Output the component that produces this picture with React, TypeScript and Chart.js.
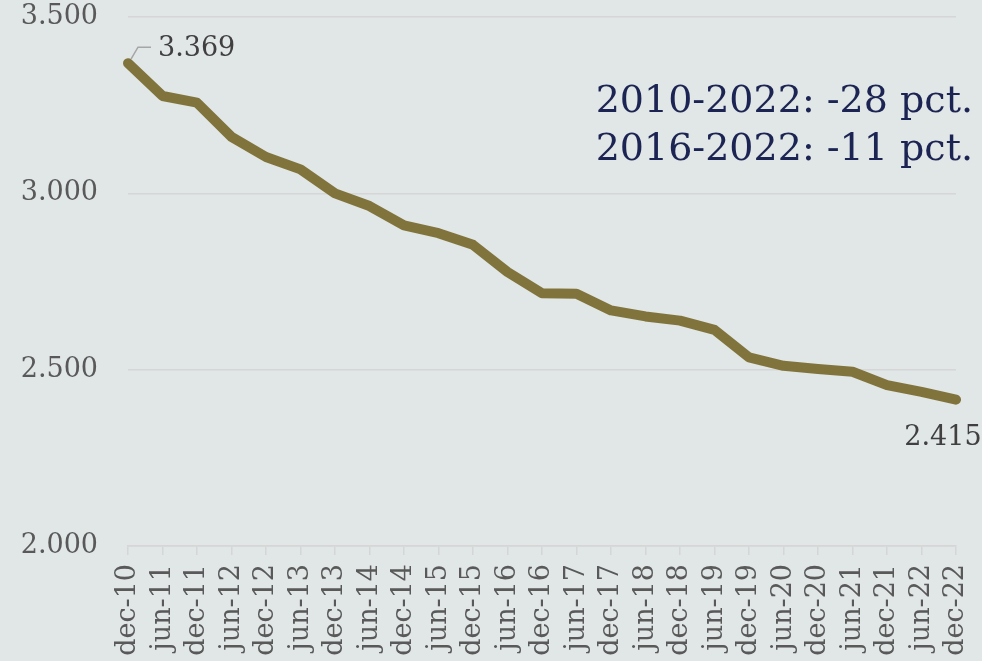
import React, { useEffect, useRef } from "react";
import { Chart, registerables } from "chart.js";

Chart.register(...registerables);

const categories = [
  "dec-10", "jun-11", "dec-11", "jun-12", "dec-12", "jun-13", "dec-13", "jun-14",
  "dec-14", "jun-15", "dec-15", "jun-16", "dec-16", "jun-17", "dec-17", "jun-18",
  "dec-18", "jun-19", "dec-19", "jun-20", "dec-20", "jun-21", "dec-21", "jun-22", "dec-22",
];
const values = [
  3369, 3276, 3257, 3160, 3103, 3068, 3000, 2964,
  2909, 2887, 2854, 2777, 2717, 2715, 2668, 2651,
  2639, 2613, 2535, 2511, 2502, 2494, 2456, 2437, 2415,
];
const yMin = 2000;
const yMax = 3500;
const yStep = 500;
const annotationLines = ["2010-2022: -28 pct.", "2016-2022: -11 pct."];
const labelledIndexes = [0, values.length - 1];

const FONT = "'DejaVu Serif', serif";
const BG = "#e1e6e6";
const LINE = "#80743c";

function fmt(v: number): string {
  const n = Math.round(v);
  const th = Math.floor(n / 1000);
  const rest = n % 1000;
  return th > 0 ? `${th}.${String(rest).padStart(3, "0")}` : String(rest);
}

const bgPlugin = {
  id: "bg",
  beforeDraw(chart: any) {
    const { ctx, width, height } = chart;
    ctx.save();
    ctx.fillStyle = BG;
    ctx.fillRect(0, 0, width, height);
    ctx.restore();
  },
};

const labelsPlugin = {
  id: "labelsPlugin",
  afterDatasetsDraw(chart: any) {
    const { ctx, chartArea } = chart;
    const meta = chart.getDatasetMeta(0);
    ctx.save();
    const i0 = labelledIndexes[0];
    const p0 = meta.data[i0];
    ctx.strokeStyle = "#a6a6a6";
    ctx.lineWidth = 1.5;
    ctx.beginPath();
    ctx.moveTo(p0.x + 3, p0.y - 4);
    ctx.lineTo(p0.x + 10, p0.y - 16);
    ctx.lineTo(p0.x + 23, p0.y - 16);
    ctx.stroke();
    ctx.fillStyle = "#404040";
    ctx.font = `27px ${FONT}`;
    ctx.textAlign = "left";
    ctx.textBaseline = "middle";
    ctx.fillText(fmt(values[i0]), p0.x + 30, p0.y - 14);
    const i1 = labelledIndexes[1];
    const p1 = meta.data[i1];
    ctx.textAlign = "center";
    ctx.fillText(fmt(values[i1]), p1.x - 13, p1.y + 38);
    ctx.fillStyle = "#1b2452";
    ctx.font = `38px ${FONT}`;
    ctx.textAlign = "right";
    ctx.textBaseline = "alphabetic";
    annotationLines.forEach((t, k) => {
      ctx.fillText(t, chartArea.right + 17, chartArea.top + 95 + k * 48);
    });
    ctx.restore();
  },
};

export default function App() {
  const ref = useRef<HTMLCanvasElement | null>(null);
  useEffect(() => {
    if (!ref.current) return;
    const chart = new Chart(ref.current, {
      type: "line",
      data: {
        labels: categories,
        datasets: [
          {
            data: values,
            borderColor: LINE,
            backgroundColor: LINE,
            borderWidth: 10,
            pointRadius: 0,
            tension: 0,
            borderCapStyle: "round",
            borderJoinStyle: "round",
          },
        ],
      },
      options: {
        animation: false,
        responsive: true,
        maintainAspectRatio: false,
        layout: { padding: { top: 17, right: 26, left: 0, bottom: 0 } },
        plugins: {
          legend: { display: false },
          tooltip: { enabled: false },
        },
        scales: {
          x: {
            offset: false,
            grid: {
              drawOnChartArea: false,
              drawTicks: true,
              tickLength: 9,
              color: "#d6d6d6",
              lineWidth: 1.5,
            },
            border: { display: true, color: "#d6d6d6", width: 1.5 },
            ticks: {
              autoSkip: false,
              maxRotation: 90,
              minRotation: 90,
              padding: 9,
              color: "#595959",
              font: { family: FONT, size: 27 },
            },
            afterFit(scale: any) {
              scale.height = 115;
              scale.paddingLeft = 0;
              scale.paddingRight = 0;
            },
          },
          y: {
            min: yMin,
            max: yMax,
            border: { display: false },
            grid: {
              drawTicks: false,
              color: "#d6d6d6",
              lineWidth: 1.5,
            },
            ticks: {
              stepSize: yStep,
              padding: 30,
              color: "#595959",
              font: { family: FONT, size: 27 },
              callback: (v: any) => fmt(Number(v)),
            },
            afterFit(scale: any) {
              scale.width = 128;
              scale.paddingTop = 0;
              scale.paddingBottom = 0;
            },
          },
        },
      },
      plugins: [bgPlugin, labelsPlugin],
    });
    return () => chart.destroy();
  }, []);
  return (
    <div style={{ position: "fixed", left: 0, top: 0, width: 982, height: 661, background: BG }}>
      <canvas ref={ref} />
    </div>
  );
}
